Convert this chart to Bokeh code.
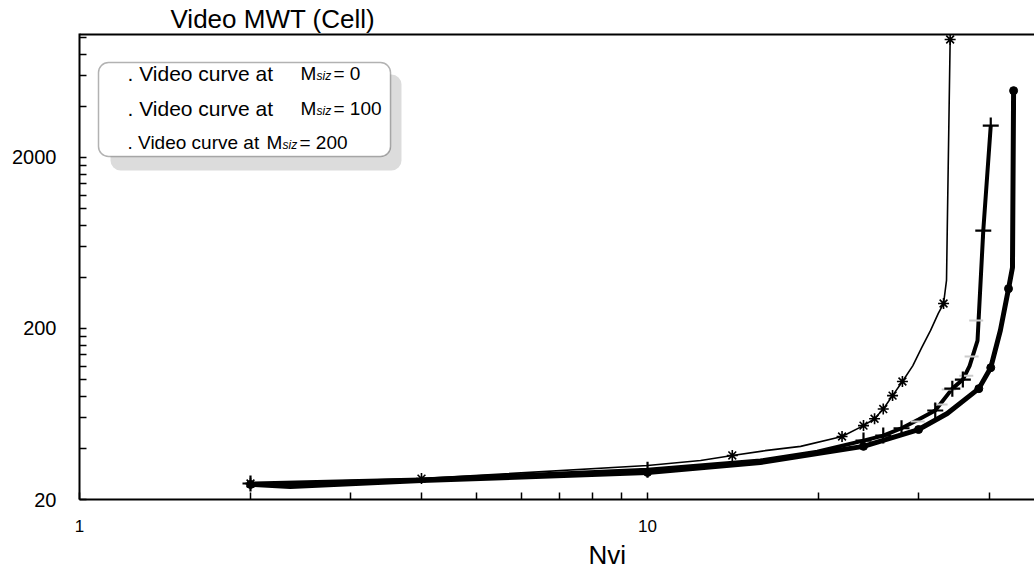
import numpy as np
from bokeh.plotting import figure
from bokeh.models import FixedTicker, Label, BoxAnnotation, Range1d, Span, Title
from bokeh.embed import file_html
from bokeh.resources import INLINE

# ---------------- data ----------------
# Video curve at Msiz = 0  (thick line, filled circles)
s0_x = [2.0, 2.35, 4.0, 10.0, 15.8, 19.9, 24.0, 30.0, 33.7, 38.3, 40.2, 41.8, 43.2, 43.9, 44.1]
s0_y = [24.5, 23.8, 25.8, 28.8, 32.9, 37.2, 40.9, 51.3, 63.7, 89.0, 118, 195, 342, 454, 4920]
s0_marks = [0, 3, 6, 7, 9, 10, 12, 14]

# Video curve at Msiz = 100  (thick line, plus markers)
s1_x = [2.0, 4.0, 10.0, 15.8, 19.9, 24.0, 26.0, 28.0, 30.0, 32.1, 34.4, 35.9, 36.9, 38.1, 39.0, 40.2]
s1_y = [24.8, 26.2, 29.9, 33.8, 38.1, 44.2, 47.3, 52.2, 58.7, 66.3, 89.0, 100.6, 121, 170, 748, 3074]
s1_marks = [0, 2, 5, 6, 7, 9, 10, 11, 14, 15]

# Video curve at Msiz = 200  (thin line, asterisks)
s2_x = [2.0, 4.0, 10.0, 12.4, 14.1, 16.1, 18.6, 22.0, 24.0, 25.1, 26.0, 27.0, 28.1, 29.3, 30.4,
        31.5, 32.5, 33.2, 33.6, 33.7, 34.1]
s2_y = [24.8, 26.5, 31.6, 33.8, 36.2, 38.6, 40.9, 46.7, 54.1, 59.3, 67.6, 81.0, 97.9, 121, 155,
        195, 245, 280, 382, 748, 9800]
s2_marks = [0, 1, 4, 7, 8, 9, 10, 11, 12, 17, 20]

# faint grey dash residues seen in the original
ghost_x = [29.9, 32.8, 33.9, 36.4, 37.2, 37.9]
ghost_y = [57.2, 71.8, 88.0, 106, 137, 223]

x_major = [1, 10]
x_minor = [2, 3, 4, 5, 6, 7, 8, 9, 20, 30, 40]
y_major = [20, 200, 2000]
y_minor = [40, 60, 80, 100, 120, 140, 160, 180,
           400, 600, 800, 1000, 1200, 1400, 1600, 1800,
           4000, 6000, 8000, 10000]

X0, X1 = 1.0, 48.0
Y0, Y1 = 20.0, 10620.0

# ---------------- layout ----------------
W, H = 1034, 575
FL, FT, FW, FH = 79, 33, 955, 466   # frame position in canvas px


def dx(px):
    return 10 ** (np.log10(X0) + (px - FL) / FW * np.log10(X1 / X0))


def dy(py):
    return 10 ** (np.log10(Y0) + (FT + FH - py) / FH * np.log10(Y1 / Y0))


FONT = "Liberation Sans"

p = figure(width=W, height=H, x_axis_type="log", y_axis_type="log",
           x_range=Range1d(X0, X1), y_range=Range1d(Y0, Y1),
           output_backend="svg", toolbar_location=None,
           min_border_left=FL, min_border_right=W - FL - FW,
           min_border_top=FT, min_border_bottom=H - FT - FH)
p.outline_line_color = None
p.xgrid.visible = False
p.ygrid.visible = False
p.background_fill_color = "white"
p.border_fill_color = "white"

p.title.text = "Video MWT  (Cell)"
p.title.align = "left"
p.title.offset = 170 - FL
p.title.standoff = 0
p.title.text_font = FONT
p.title.text_font_size = "26px"
p.title.text_font_style = "normal"
p.title.text_color = "black"

for ax, maj, mino in ((p.xaxis[0], x_major, x_minor), (p.yaxis[0], y_major, y_minor)):
    ax.ticker = FixedTicker(ticks=maj, minor_ticks=mino)
    ax.axis_line_width = 2
    ax.axis_line_color = "black"
    ax.major_tick_in = 7
    ax.major_tick_out = 0
    ax.minor_tick_in = 7
    ax.minor_tick_out = 0
    ax.major_tick_line_width = 1.5
    ax.minor_tick_line_width = 1.5
    ax.major_tick_line_color = "black"
    ax.minor_tick_line_color = "black"
    ax.major_label_text_font = FONT
    ax.major_label_text_color = "black"

p.xaxis[0].major_label_text_font_size = "17px"
p.yaxis[0].major_label_text_font_size = "20px"
p.xaxis[0].major_label_standoff = 20
p.yaxis[0].major_label_standoff = 23
p.xaxis[0].major_label_overrides = {1: "1", 10: "10"}
p.yaxis[0].major_label_overrides = {20: "20", 200: "200", 2000: "2000"}

# top frame line
p.add_layout(Span(location=Y1, dimension="width", line_color="black", line_width=4))

# x axis title
p.add_layout(Title(text="Nvi", align="left", offset=588 - FL, standoff=7, text_font=FONT,
                   text_font_size="26px", text_font_style="normal", text_color="black"),
             "below")

# ---------------- curves ----------------
p.line(s2_x, s2_y, line_width=1.6, color="black", line_join="round")
p.line(s1_x, s1_y, line_width=4, color="black", line_join="round")
p.line(s0_x, s0_y, line_width=5, color="black", line_join="round")

p.scatter(ghost_x, ghost_y, marker="dash", size=14, line_width=2, color="#cccccc")

p.scatter([s2_x[i] for i in s2_marks], [s2_y[i] for i in s2_marks], marker="asterisk",
          size=11, line_width=1.6, color="black")
p.scatter([s1_x[i] for i in s1_marks], [s1_y[i] for i in s1_marks], marker="cross",
          size=16, line_width=2.2, color="black")
p.scatter([s0_x[i] for i in s0_marks], [s0_y[i] for i in s0_marks], marker="circle",
          size=8, color="black")

# ---------------- legend (drawn by hand) ----------------
p.add_layout(BoxAnnotation(left=dx(110), right=dx(401), top=dy(74), bottom=dy(170),
                           fill_color="#dcdcdc", fill_alpha=1, line_color=None,
                           border_radius=10))
p.add_layout(BoxAnnotation(left=dx(98), right=dx(390), top=dy(62), bottom=dy(156),
                           fill_color="white", fill_alpha=1, line_color="black",
                           line_width=1.5, border_radius=10))

rows = [73, 108, 142]
p.line([dx(105), dx(126)], [dy(rows[0]), dy(rows[0])], line_width=4, color="black")
p.scatter([dx(116)], [dy(rows[0])], marker="square", size=7, color="black")
p.scatter([dx(114)], [dy(rows[1])], marker="cross", size=17, line_width=3, color="black")
p.line([dx(102), dx(126)], [dy(rows[2]), dy(rows[2])], line_width=1.5, color="black")
p.scatter([dx(111)], [dy(rows[2])], marker="asterisk", size=11, line_width=1.6, color="black")

legend_tails = ["= 0", "= 100", "= 200"]
m_pos = [300, 300, 266]
lead_size = ["21px", "21px", "19px"]
for r, tail, mx, ls in zip(rows, legend_tails, m_pos, lead_size):
    p.add_layout(Label(x=dx(127), y=dy(r), text=". Video curve at", text_font=FONT,
                       text_font_size=ls, text_baseline="middle", text_color="black"))
    p.add_layout(Label(x=dx(mx), y=dy(r), text="M", text_font=FONT,
                       text_font_size="19px", text_baseline="middle", text_color="black"))
    p.add_layout(Label(x=dx(mx + 16), y=dy(r + 2), text="siz", text_font=FONT,
                       text_font_style="italic", text_font_size="12px",
                       text_baseline="middle", text_color="black"))
    p.add_layout(Label(x=dx(mx + 33), y=dy(r), text=tail, text_font=FONT,
                       text_font_size="19px", text_baseline="middle", text_color="black"))

open("out.html", "w").write(file_html(p, INLINE))
